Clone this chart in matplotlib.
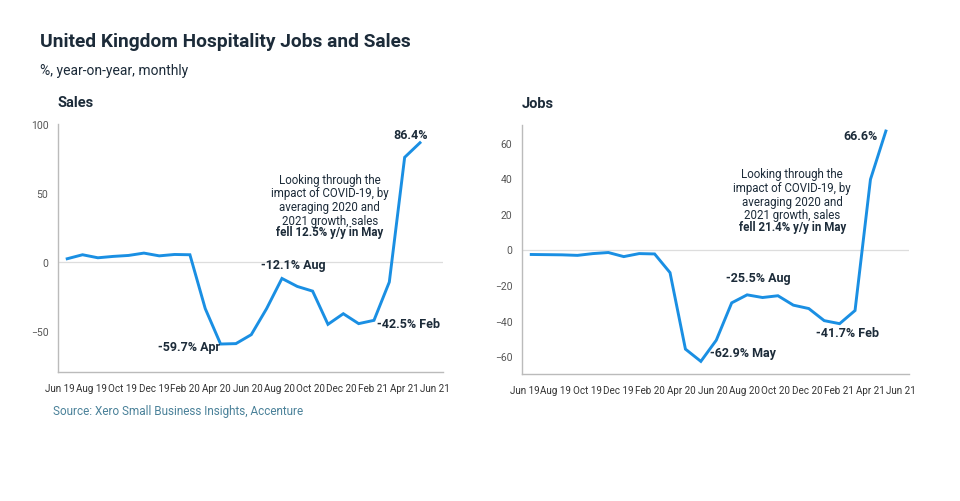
import numpy as np
import matplotlib
matplotlib.use("Agg")
import matplotlib.pyplot as plt

plt.rcParams['font.family'] = ['Roboto', 'DejaVu Sans']

# monthly data, Jun 2019 .. May 2021
months = ['Jun 19', 'Jul 19', 'Aug 19', 'Sep 19', 'Oct 19', 'Nov 19', 'Dec 19',
          'Jan 20', 'Feb 20', 'Mar 20', 'Apr 20', 'May 20', 'Jun 20', 'Jul 20',
          'Aug 20', 'Sep 20', 'Oct 20', 'Nov 20', 'Dec 20', 'Jan 21', 'Feb 21',
          'Mar 21', 'Apr 21', 'May 21']
tick_labels = ['Jun 19', 'Aug 19', 'Oct 19', 'Dec 19', 'Feb 20', 'Apr 20', 'Jun 20',
               'Aug 20', 'Oct 20', 'Dec 20', 'Feb 21', 'Apr 21', 'Jun 21']

sales = [2.2, 5.1, 2.9, 3.9, 4.6, 6.3, 4.3, 5.3, 5.1, -34.0, -59.7, -59.4,
         -52.9, -34.0, -12.1, -17.9, -21.3, -45.4, -37.7, -44.9, -42.5, -14.7,
         75.8, 86.4]
jobs = [-2.8, -2.9, -3.0, -3.3, -2.3, -1.7, -4.0, -2.3, -2.5, -13.0, -56.0,
        -62.9, -51.0, -30.0, -25.5, -27.0, -26.0, -31.3, -33.2, -40.0, -41.7,
        -34.3, 39.4, 66.6]

line_col = '#1a8fe3'
dark = '#1c2b39'
note_lines = ['Looking through the', 'impact of COVID-19, by',
              'averaging 2020 and', '2021 growth, sales']

fig = plt.figure(figsize=(9.6, 5.02), dpi=100)
fig.text(40 / 960, 1 - 42 / 502, 'United Kingdom Hospitality Jobs and Sales',
         fontsize=13.8, fontweight='bold', color=dark, va='center')
fig.text(40 / 960, 1 - 71 / 502, '%, year-on-year, monthly',
         fontsize=10, color=dark, va='center')
fig.text(53 / 960, 1 - 412 / 502, 'Source: Xero Small Business Insights, Accenture',
         fontsize=8.5, color='#4a8199', va='center')

x = np.arange(len(months))


def panel(rect, values, title, ylim, yticks, notes, note_pos, bold_line):
    ax = fig.add_axes(rect)
    ax.plot(x, values, color=line_col, lw=2.1, solid_joinstyle='miter')
    ax.axhline(0, color='#dddddd', lw=0.9, zorder=0)
    ax.set_xlim(-0.6, 24.5)
    ax.set_ylim(*ylim)
    ax.set_yticks(yticks)
    ax.set_xticks(np.linspace(-0.45, 24.0, len(tick_labels)))
    ax.set_xticklabels(tick_labels)
    ax.tick_params(length=0, labelsize=7.1, colors='#333333', pad=8)
    ax.tick_params(axis='y', colors='#555555', pad=7, labelsize=7.5)
    for s in ['top', 'right']:
        ax.spines[s].set_visible(False)
    for s in ['left', 'bottom']:
        ax.spines[s].set_color('#bbbbbb')
        ax.spines[s].set_linewidth(1.0)
    ax.text(0.0, 1.09, title, transform=ax.transAxes, fontsize=10.5,
            fontweight='bold', color=dark, va='center')
    for i, txt, dx, dy, ha in notes:
        ax.annotate(txt, (x[i], values[i]), xytext=(dx, dy), textcoords='offset pixels',
                    ha=ha, va='center', fontsize=9, fontweight='bold', color=dark)
    nx, ny, by = note_pos
    ax.text(nx, ny, '\n'.join(note_lines), transform=ax.transAxes, ha='center',
            va='center', fontsize=8.3, color=dark, linespacing=1.08)
    ax.text(nx, by, bold_line, transform=ax.transAxes, ha='center', va='center',
            fontsize=8.3, fontweight='bold', color=dark)
    return ax


panel([58 / 960, 129 / 502, 385 / 960, 248 / 502], sales, 'Sales', (-80, 100),
      [-50, 0, 50, 100],
      [(23, '86.4%', -9, 8, 'center'), (14, '-12.1% Aug', 11, 14, 'center'),
       (10, '-59.7% Apr', -32, -2, 'center'), (20, '-42.5% Feb', 3, -3, 'left')],
      (0.706, 0.694, 0.565), 'fell 12.5% y/y in May')

panel([522 / 960, 127 / 502, 387 / 960, 249 / 502], jobs, 'Jobs', (-70, 70),
      [-60, -40, -20, 0, 20, 40, 60],
      [(23, '66.6%', -25, -4, 'center'), (14, '-25.5% Aug', 11, 17, 'center'),
       (11, '-62.9% May', 9, 9, 'left'), (20, '-41.7% Feb', 8, -9, 'center')],
      (0.698, 0.722, 0.594), 'fell 21.4% y/y in May')

fig.savefig('out.png', dpi=100)
